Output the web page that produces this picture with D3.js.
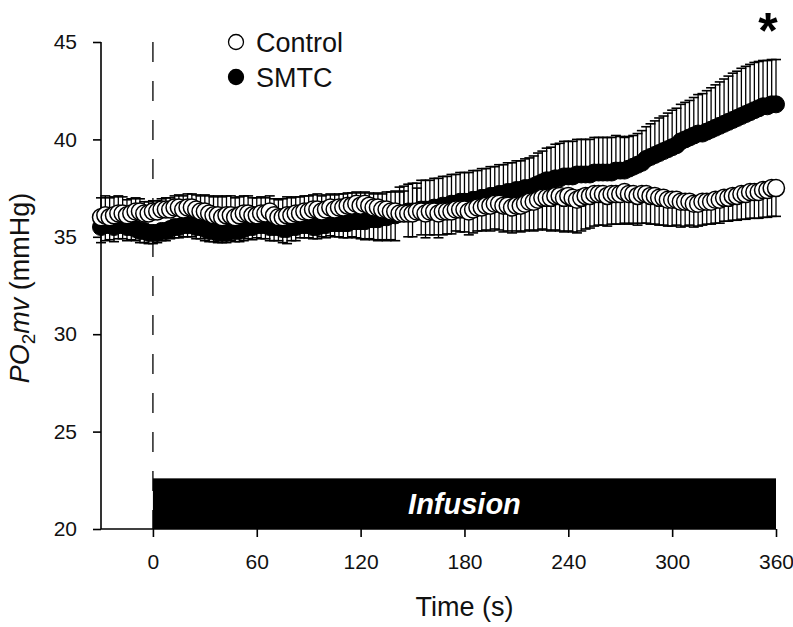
<!DOCTYPE html>
<html>
<head>
<meta charset="utf-8">
<script src="https://cdn.jsdelivr.net/npm/d3@7"></script>
<style>
  html, body { margin: 0; padding: 0; background: #fff; }
  svg { display: block; font-family: "Liberation Sans", Arial, sans-serif; }
  svg text { font-family: "Liberation Sans", Arial, sans-serif; }
</style>
</head>
<body>
<svg id="chart" width="793" height="627"></svg>
<script>
// ---- Data ----
// sampling grid: every 2.5 s from -30 s to 360 s
const times = d3.range(-30, 362, 2.5);

const controlMean = [
  36.0, 36.1, 36.0, 36.1,  36.2, 36.2, 36.1, 36.2,  36.3, 36.3, 36.2, 36.2,
  36.3, 36.3, 36.4, 36.4,  36.4, 36.5, 36.5, 36.4,  36.5, 36.5, 36.4, 36.3,
  36.3, 36.2, 36.1, 36.1,  36.0, 36.1, 36.1, 36.0,  36.1, 36.2, 36.2, 36.1,
  36.1, 36.2, 36.2, 36.3,  36.1, 36.0, 36.0, 36.1,  36.1, 36.2, 36.2, 36.3,
  36.3, 36.4, 36.4, 36.3,  36.4, 36.5, 36.4, 36.5,  36.5, 36.6, 36.6, 36.7,
  36.6, 36.7, 36.6, 36.5,  36.5, 36.4, 36.4, 36.3,  36.3, 36.2, 36.2, 36.2,
  36.2, 36.3, 36.3, 36.2,  36.3, 36.3, 36.2, 36.3,  36.3, 36.3, 36.4, 36.4,
  36.4, 36.3, 36.4, 36.5,  36.5, 36.6, 36.6, 36.7,  36.7, 36.6, 36.6, 36.5,
  36.6, 36.6, 36.7, 36.8,  36.8, 36.9, 37.0, 37.0,  37.0, 37.1, 37.1, 37.0,
  37.1, 37.0, 36.9, 37.0,  37.1, 37.1, 37.2, 37.2,  37.2, 37.1, 37.2, 37.2,
  37.2, 37.3, 37.2, 37.2,  37.1, 37.2, 37.2, 37.1,  37.1, 37.0, 37.0, 36.9,
  36.9, 36.9, 36.8, 36.8,  36.8, 36.7, 36.7, 36.8,  36.8, 36.8, 36.9, 36.9,
  37.0, 37.0, 37.1, 37.1,  37.2, 37.2, 37.3, 37.3,  37.3, 37.4, 37.4, 37.5,
  37.5
];
const controlSE = [
  1.0, 1.0, 1.0, 0.95,  0.9, 0.85, 0.8, 0.75,  0.7, 0.65, 0.6, 0.6,
  0.55, 0.55, 0.55, 0.6,  0.6, 0.6, 0.65, 0.7,  0.7, 0.7, 0.75, 0.8,
  0.85, 0.9, 0.95, 1.0,  1.05, 1.0, 1.0, 1.0,  0.95, 0.9, 0.9, 0.9,
  0.9, 0.85, 0.8, 0.8,  0.85, 0.9, 0.95, 0.95,  0.9, 0.85, 0.85, 0.8,
  0.8, 0.75, 0.8, 0.8,  0.75, 0.7, 0.75, 0.7,  0.7, 0.65, 0.65, 0.6,
  0.65, 0.6, 0.65, 0.7,  0.75, 0.8, 0.9, 1.0,  1.05, 1.1, 1.15, 1.2,
  1.2, 1.2, 1.2, 1.25,  1.2, 1.2, 1.25, 1.2,  1.15, 1.15, 1.1, 1.15,
  1.15, 1.2, 1.2, 1.2,  1.2, 1.25, 1.3, 1.3,  1.35, 1.35, 1.3, 1.3,
  1.3, 1.35, 1.4, 1.45,  1.5, 1.55, 1.6, 1.65,  1.7, 1.75, 1.8, 1.75,
  1.8, 1.75, 1.7, 1.7,  1.7, 1.65, 1.65, 1.6,  1.6, 1.55, 1.55, 1.55,
  1.55, 1.6, 1.55, 1.5,  1.5, 1.5, 1.5, 1.45,  1.45, 1.4, 1.4, 1.35,
  1.35, 1.3, 1.3, 1.25,  1.2, 1.2, 1.15, 1.2,  1.15, 1.15, 1.2, 1.2,
  1.2, 1.2, 1.25, 1.25,  1.3, 1.3, 1.35, 1.35,  1.35, 1.4, 1.4, 1.45,
  1.45
];
const smtcMean = [
  35.5, 35.6, 35.6, 35.5,  35.6, 35.6, 35.5, 35.5,  35.4, 35.3, 35.3, 35.2,
  35.2, 35.2, 35.3, 35.3,  35.4, 35.5, 35.5, 35.6,  35.6, 35.6, 35.5, 35.5,
  35.4, 35.3, 35.3, 35.2,  35.2, 35.2, 35.3, 35.3,  35.3, 35.4, 35.5, 35.5,
  35.6, 35.6, 35.6, 35.5,  35.5, 35.5, 35.4, 35.4,  35.5, 35.5, 35.6, 35.6,
  35.6, 35.5, 35.5, 35.6,  35.6, 35.7, 35.7, 35.7,  35.7, 35.7, 35.8, 35.8,
  35.8, 35.8, 35.9, 35.9,  35.9, 36.0, 36.0, 36.1,  36.1, 36.2, 36.2, 36.3,
  36.3, 36.3, 36.4, 36.4,  36.4, 36.5, 36.5, 36.6,  36.6, 36.7, 36.7, 36.8,
  36.8, 36.8, 36.9, 36.9,  37.0, 37.0, 37.1, 37.1,  37.2, 37.2, 37.3, 37.3,
  37.4, 37.4, 37.5, 37.5,  37.6, 37.7, 37.8, 37.9,  37.9, 38.0, 38.0, 38.1,
  38.1, 38.1, 38.2, 38.2,  38.2, 38.2, 38.3, 38.3,  38.3, 38.3, 38.3, 38.4,
  38.4, 38.4, 38.5, 38.6,  38.7, 38.8, 39.0, 39.1,  39.2, 39.3, 39.4, 39.5,
  39.6, 39.7, 39.9, 40.0,  40.1, 40.2, 40.3, 40.3,  40.4, 40.5, 40.6, 40.7,
  40.8, 40.9, 41.0, 41.1,  41.2, 41.3, 41.4, 41.5,  41.6, 41.7, 41.7, 41.8,
  41.8
];
const smtcSE = [
  0.8, 0.8, 0.75, 0.75,  0.7, 0.7, 0.7, 0.65,  0.6, 0.6, 0.6, 0.55,
  0.55, 0.5, 0.5, 0.5,  0.5, 0.55, 0.55, 0.6,  0.6, 0.6, 0.6, 0.6,
  0.6, 0.55, 0.55, 0.5,  0.5, 0.5, 0.5, 0.55,  0.55, 0.6, 0.6, 0.65,
  0.65, 0.7, 0.7, 0.7,  0.7, 0.7, 0.7, 0.75,  0.7, 0.7, 0.65, 0.65,
  0.65, 0.6, 0.6, 0.6,  0.65, 0.65, 0.7, 0.7,  0.75, 0.75, 0.8, 0.85,
  0.9, 0.95, 1.0, 1.05,  1.1, 1.15, 1.2, 1.25,  1.3, 1.35, 1.4, 1.4,
  1.45, 1.45, 1.5, 1.5,  1.5, 1.5, 1.5, 1.5,  1.5, 1.5, 1.5, 1.5,
  1.5, 1.5, 1.5, 1.5,  1.5, 1.5, 1.5, 1.5,  1.5, 1.5, 1.5, 1.5,
  1.5, 1.5, 1.5, 1.55,  1.55, 1.6, 1.6, 1.65,  1.7, 1.75, 1.8, 1.8,
  1.8, 1.8, 1.8, 1.8,  1.8, 1.8, 1.8, 1.8,  1.8, 1.8, 1.8, 1.8,
  1.75, 1.7, 1.65, 1.6,  1.6, 1.65, 1.65, 1.7,  1.75, 1.8, 1.8, 1.85,
  1.9, 1.9, 1.9, 1.9,  1.9, 1.95, 2.0, 2.05,  2.1, 2.15, 2.2, 2.25,
  2.3, 2.35, 2.4, 2.4,  2.45, 2.45, 2.45, 2.45,  2.4, 2.35, 2.35, 2.3,
  2.3
];

const xTicks = [0, 60, 120, 180, 240, 300, 360];
const yTicks = [20, 25, 30, 35, 40, 45];
const seriesNames = ["Control", "SMTC"];
const infusion = { start: 0, end: 360, top: 22.6, label: "Infusion" };

// ---- Layout ----
const svg = d3.select("#chart");
const x = d3.scaleLinear().domain([-30, 360]).range([101, 776]);
const y = d3.scaleLinear().domain([20, 45]).range([529, 42]);

// Infusion bar
svg.append("rect")
  .attr("x", x(infusion.start)).attr("y", y(infusion.top))
  .attr("width", x(infusion.end) - x(infusion.start))
  .attr("height", y(20) - y(infusion.top))
  .attr("fill", "#000");
svg.append("text")
  .attr("x", (x(infusion.start) + x(infusion.end)) / 2)
  .attr("y", (y(infusion.top) + y(20)) / 2 + 10)
  .attr("text-anchor", "middle")
  .attr("fill", "#fff")
  .attr("font-size", 29).attr("font-weight", "bold").attr("font-style", "italic")
  .text(infusion.label);

// Dashed line at time 0
svg.append("line")
  .attr("x1", x(0)).attr("x2", x(0))
  .attr("y1", y(45)).attr("y2", y(20))
  .attr("stroke", "#000").attr("stroke-width", 1.3)
  .attr("stroke-dasharray", "20,19");

// Axes
const yAxis = svg.append("g").attr("transform", `translate(${x(-30)},0)`)
  .call(d3.axisLeft(y).tickValues(yTicks).tickSize(8).tickPadding(16).tickSizeOuter(0));
const xAxis = svg.append("g").attr("transform", `translate(0,${y(20)})`)
  .call(d3.axisBottom(x).tickValues(xTicks).tickSize(8).tickPadding(17).tickSizeOuter(0));
[yAxis, xAxis].forEach(g => {
  g.attr("font-family", null).attr("font-size", null);
  g.select(".domain").attr("stroke", "#000").attr("stroke-width", 1.6);
  g.selectAll(".tick line").attr("stroke", "#000").attr("stroke-width", 1.6);
  g.selectAll(".tick text")
    .style("font-size", "21px").style("font-family", "'Liberation Sans', Arial, sans-serif")
    .attr("fill", "#111");
});
xAxis.select(".domain").attr("d", `M${x(-30)},0H${x(360)}`);
yAxis.select(".domain").attr("d", `M0,${y(45)}V${y(20)}`);

// Axis titles
svg.append("text")
  .attr("x", (x(0) + x(360)) / 2).attr("y", 616)
  .attr("text-anchor", "middle").attr("font-size", 27).attr("fill", "#111")
  .text("Time (s)");
const yt = svg.append("text")
  .attr("transform", "translate(29,288) rotate(-90)")
  .attr("text-anchor", "middle").attr("font-size", 27).attr("fill", "#111");
yt.append("tspan").attr("font-style", "italic").text("PO");
yt.append("tspan").attr("font-size", 19).attr("dy", 6).text("2");
yt.append("tspan").attr("font-style", "italic").attr("dy", -6).text("mv");
yt.append("tspan").text(" (mmHg)");

// ---- Data marks ----
const pts = times.map((t, i) => ({
  t, c: controlMean[i], cse: controlSE[i], s: smtcMean[i], sse: smtcSE[i]
}));
const capW = 10;

function drawBars(key, seKey, otherKey, cls) {
  const g = svg.append("g").attr("class", cls);
  pts.forEach(d => {
    const dir = d[key] >= d[otherKey] ? 1 : -1;
    const end = d[key] + dir * d[seKey];
    g.append("line")
      .attr("x1", x(d.t)).attr("x2", x(d.t))
      .attr("y1", y(d[key])).attr("y2", y(end))
      .attr("stroke", "#000").attr("stroke-width", 1.3);
    g.append("line")
      .attr("x1", x(d.t) - capW / 2).attr("x2", x(d.t) + capW / 2)
      .attr("y1", y(end)).attr("y2", y(end))
      .attr("stroke", "#000").attr("stroke-width", 1.6);
  });
}
drawBars("s", "sse", "c", "smtc-err");
drawBars("c", "cse", "s", "control-err");

svg.append("g").selectAll("circle").data(pts).join("circle")
  .attr("cx", d => x(d.t)).attr("cy", d => y(d.s)).attr("r", 8.5)
  .attr("fill", "#000").attr("stroke", "#000").attr("stroke-width", 1);
svg.append("g").selectAll("circle").data(pts).join("circle")
  .attr("cx", d => x(d.t)).attr("cy", d => y(d.c)).attr("r", 8.5)
  .attr("fill", "#fff").attr("stroke", "#000").attr("stroke-width", 1.5);

// Legend
const legend = svg.append("g");
seriesNames.forEach((name, i) => {
  const cy = 42 + i * 35;
  legend.append("circle").attr("cx", 236).attr("cy", cy).attr("r", 7.5)
    .attr("fill", i === 0 ? "#fff" : "#000").attr("stroke", "#000").attr("stroke-width", 1.3);
  legend.append("text").attr("x", 256).attr("y", cy + 10)
    .attr("font-size", 27).attr("fill", "#111").text(name);
});

// Significance asterisk
svg.append("text").attr("x", 768).attr("y", 48)
  .attr("text-anchor", "middle").attr("font-size", 50).attr("font-weight", "bold")
  .text("*");
</script>
</body>
</html>
